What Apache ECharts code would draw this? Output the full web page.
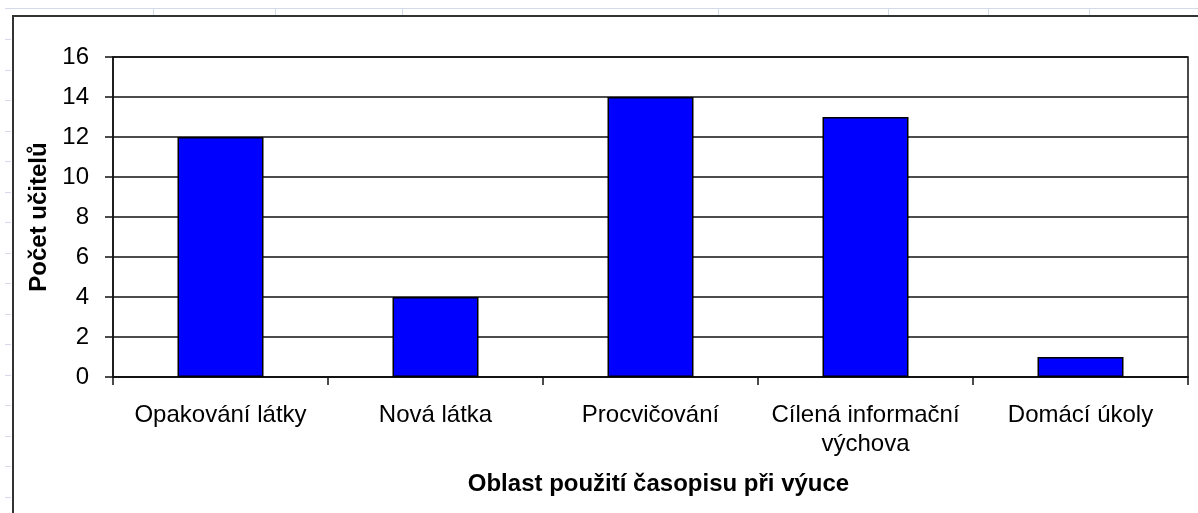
<!DOCTYPE html>
<html>
<head>
<meta charset="utf-8">
<title>Oblast použití časopisu při výuce</title>
<script src="https://cdn.jsdelivr.net/npm/echarts@6/dist/echarts.min.js"></script>
<style>
    html, body { margin: 0; padding: 0; background: #ffffff; }
    #chart { width: 1198px; height: 513px; }
</style>
</head>
<body>
<div id="chart"></div>
<script>
var categories = ["Opakování látky", "Nová látka", "Procvičování", "Cílená informační\nvýchova", "Domácí úkoly"];
var teacherCounts = [12, 4, 14, 13, 1];
var yTicks = [0, 2, 4, 6, 8, 10, 12, 14, 16];

var FONT = "'Liberation Sans', Arial, sans-serif";

// spreadsheet grid that shows around the embedded chart
var sheetColor = "#d3dbe8";
var decor = [
    { type: "line", shape: { x1: 5, y1: 8.5, x2: 1198, y2: 8.5 }, style: { stroke: sheetColor, lineWidth: 1 } }
];
[153, 275, 402, 718, 888, 988, 1089].forEach(function (x) {
    decor.push({ type: "line", shape: { x1: x + 0.5, y1: 8, x2: x + 0.5, y2: 15 }, style: { stroke: sheetColor, lineWidth: 1 } });
});
for (var y = 39; y < 513; y += 30.5) {
    decor.push({ type: "line", shape: { x1: 5, y1: Math.round(y) + 0.5, x2: 11, y2: Math.round(y) + 0.5 }, style: { stroke: sheetColor, lineWidth: 1 } });
}
// chart frame
decor.push({ type: "polyline", shape: { points: [[13, 513], [13, 16], [1198, 16]] }, style: { stroke: "#333", lineWidth: 2, fill: null } });

var myChart = echarts.init(document.getElementById("chart"));
var option = {
    backgroundColor: "#ffffff",
    animation: false,
    graphic: decor,
    grid: {
        left: 113,
        right: 10,
        top: 57,
        bottom: 136,
        show: true,
        borderColor: "#111",
        borderWidth: 1.5,
        backgroundColor: "#ffffff"
    },
    xAxis: {
        type: "category",
        data: categories,
        name: "Oblast použití časopisu při výuce",
        nameLocation: "middle",
        nameGap: 95,
        nameTextStyle: { fontFamily: FONT, fontSize: 24, fontWeight: "bold", color: "#000", padding: [0, 0, 0, 16] },
        axisLine: { lineStyle: { color: "#111", width: 1.5 } },
        axisTick: { show: true, length: 8, lineStyle: { color: "#111", width: 1.5 } },
        axisLabel: { fontFamily: FONT, fontSize: 24, color: "#000", margin: 24, lineHeight: 29, interval: 0 }
    },
    yAxis: {
        type: "value",
        min: yTicks[0],
        max: yTicks[yTicks.length - 1],
        interval: 2,
        name: "Počet učitelů",
        nameLocation: "middle",
        nameGap: 62,
        nameTextStyle: { fontFamily: FONT, fontSize: 24, fontWeight: "bold", color: "#000" },
        axisLine: { show: true, lineStyle: { color: "#111", width: 1.5 } },
        axisTick: { show: true, length: 8, lineStyle: { color: "#111", width: 1.5 } },
        axisLabel: { fontFamily: FONT, fontSize: 24, color: "#000", margin: 24 },
        splitLine: { lineStyle: { color: "#111", width: 1.5 } }
    },
    series: [
        {
            type: "bar",
            data: teacherCounts,
            barCategoryGap: "60%",
            itemStyle: { color: "#0000ff", borderColor: "#000", borderWidth: 1.5 }
        }
    ]
};
myChart.setOption(option);
</script>
</body>
</html>
